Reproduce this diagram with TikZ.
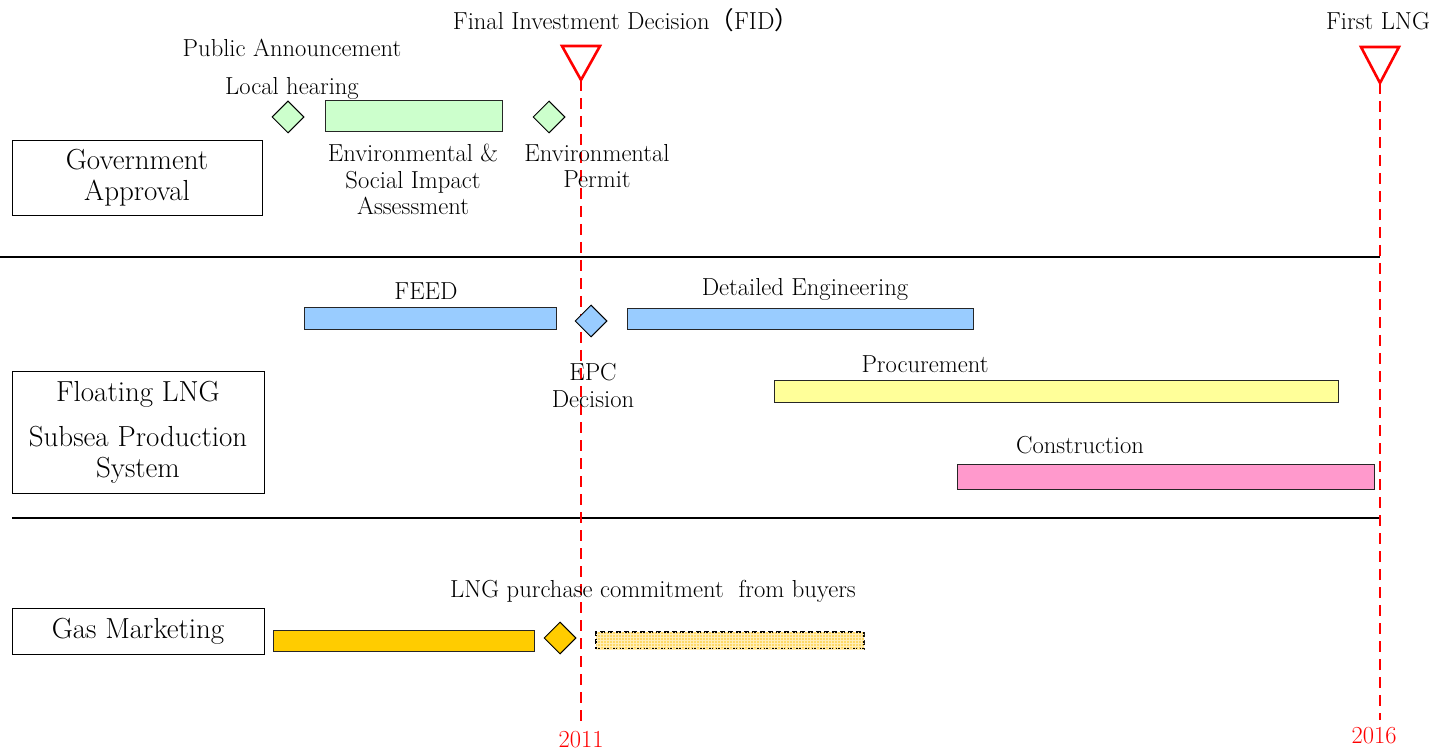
\documentclass[tikz,border=0pt]{standalone}
\usepackage{fontspec}
\newfontfamily\cjk{Noto Sans CJK JP}
\usepackage{xcolor}
\definecolor{esGreen}{HTML}{CCFFCC}
\definecolor{esBlue}{HTML}{99CCFF}
\definecolor{esYellow}{HTML}{FFFF99}
\definecolor{esPink}{HTML}{FF99CC}
\definecolor{esGold}{HTML}{FFCC00}
\definecolor{esPale}{HTML}{FFD966}
\usetikzlibrary{shapes.geometric, positioning, patterns, calc}
\tikzset{
    bar/.style={draw=black!85, line width=1pt, inner sep=0pt, outer sep=0pt, anchor=north west},
    milestone/.style={diamond, draw=black, line width=1pt, inner sep=0pt, minimum width=32pt, minimum height=32pt},
    lane/.style={draw, line width=0.9pt, inner sep=0pt, align=center, font=\fontsize{29}{31}\selectfont},
    txt/.style={inner sep=0pt, align=center, font=\fontsize{24.6}{26.5}\selectfont},
    fidMark/.style={draw=red, line width=2.6pt, line join=miter},
    yearLine/.style={draw=red, line width=2.4pt, dash pattern=on 11pt off 7pt},
    yearTxt/.style={text=red, inner sep=0pt, font=\fontsize{24.5}{26}\selectfont},
    sepLine/.style={draw=black, line width=2pt}
}

\begin{document}
\begin{tikzpicture}[x=1pt, y=-1pt]
  \useasboundingbox (0,0) rectangle (1444,751);

  % lane separators
  \draw[sepLine] (0,257) -- (1380,257);
  \draw[sepLine] (12,518) -- (1380,518);

  % lane titles
  \node[lane, minimum width=250pt, minimum height=75pt] (gov) at (137,177.5) {Government\\Approval};
  \node[lane, minimum width=252pt, minimum height=122pt] (flng) at (138,432) {Floating LNG\\[14pt]Subsea Production\\System};
  \node[lane, minimum width=252pt, minimum height=46pt] (gas) at (138,631) {Gas Marketing};

  % milestones FID and first LNG
  \coordinate (fidTip) at (581,80);
  \coordinate (fidEnd) at (581,722);
  \coordinate (lngTip) at (1380,83);
  \coordinate (lngEnd) at (1380,720);
  \draw[yearLine] (fidTip) -- (fidEnd);
  \draw[yearLine] (lngTip) -- (lngEnd);
  \draw[fidMark] (562,46) -- (600,46) -- (fidTip) -- cycle;
  \draw[fidMark] (1361,47) -- (1399,47) -- (lngTip) -- cycle;
  \node[txt] (fidTxt) at (626,20) {Final Investment Decision{\cjk（}FID{\cjk）}};
  \node[txt] (lngTxt) at (1378,21) {First LNG};
  \node[yearTxt, below=9pt of fidEnd] (y2011) {2011};
  \node[yearTxt, below=7pt of lngEnd, xshift=-6pt] (y2016) {2016};

  % government approval
  \node[milestone, fill=esGreen] (hearing) at (288,117) {};
  \node[bar, fill=esGreen, minimum width=177pt, minimum height=31pt] (esia) at (325,101) {};
  \node[milestone, fill=esGreen] (permit) at (549,117) {};
  \node[txt] (annTxt) at (292,48) {Public Announcement};
  \node[txt] (hearTxt) at (292,88) {Local hearing};
  \node[txt] (esiaTxt) at (413,179.5) {Environmental \&\\Social Impact\\Assessment};
  \node[txt] (permTxt) at (597,166) {Environmental\\Permit};

  % floating LNG / subsea
  \node[bar, fill=esBlue, minimum width=252pt, minimum height=22pt] (feed) at (304,308) {};
  \node[milestone, fill=esBlue] (epc) at (591,321) {};
  \node[bar, fill=esBlue, minimum width=346pt, minimum height=21pt] (deteng) at (627,309) {};
  \node[bar, fill=esYellow, minimum width=564pt, minimum height=22pt] (proc) at (774,381) {};
  \node[bar, fill=esPink, minimum width=417pt, minimum height=25pt] (constr) at (957,464) {};
  \node[txt] (feedTxt) at (426,291) {FEED};
  \node[txt] (detTxt) at (805,289) {Detailed Engineering};
  \node[txt] (epcTxt) at (593,385.5) {EPC\\Decision};
  \node[txt] (procTxt) at (925,364) {Procurement};
  \node[txt] (consTxt) at (1080,445) {Construction};

  % gas marketing
  \node[bar, fill=esGold, minimum width=261pt, minimum height=21pt] (gasbar) at (273,630) {};
  \node[milestone, fill=esGold] (spa) at (560,638) {};
  \node[bar, draw=black, line width=1.2pt, dash pattern=on 5pt off 3pt, fill=esPale,
        postaction={pattern=grid, pattern color=white!55!esPale},
        minimum width=268pt, minimum height=17pt] (offtake) at (596,632) {};
  \node[txt] (buyTxt) at (653,591) {LNG purchase commitment\ \ from buyers};
\end{tikzpicture}
\end{document}
